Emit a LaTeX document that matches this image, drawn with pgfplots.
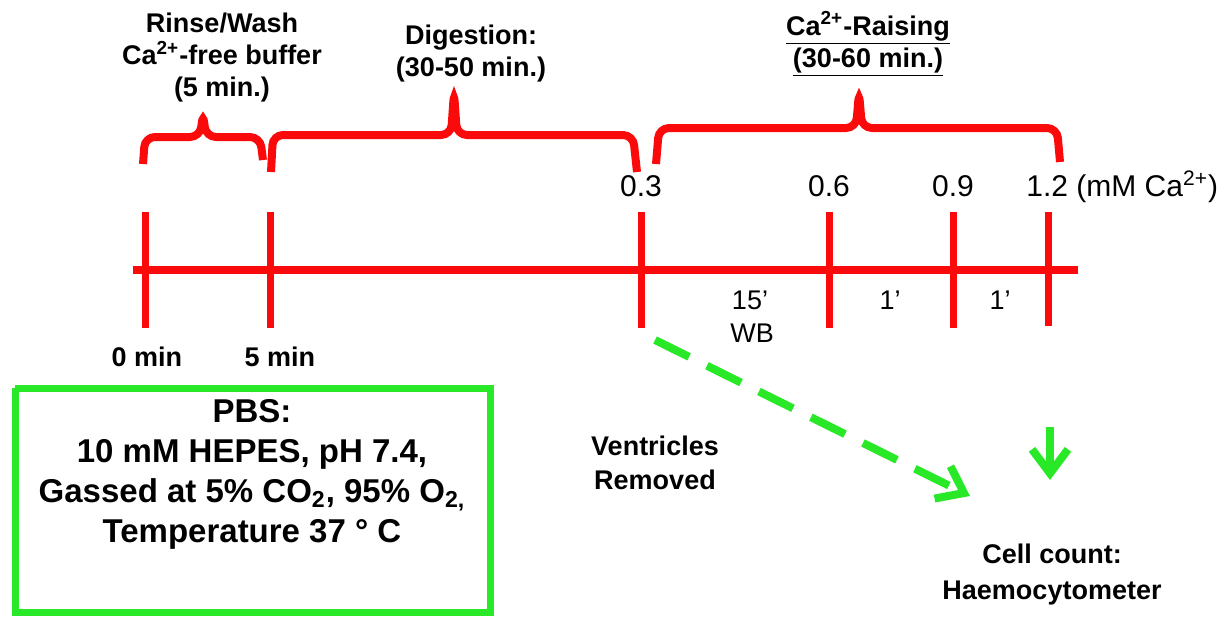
\documentclass[border=0pt]{standalone}
\usepackage{fontspec}
\setmainfont{Liberation Sans}
\usepackage{pgfplots}
\pgfplotsset{compat=1.18}
\usetikzlibrary{arrows.meta}
\definecolor{myred}{RGB}{250,10,10}
\definecolor{mygreen}{RGB}{40,232,40}
\begin{document}
\begin{tikzpicture}
\begin{axis}[
  width=615pt, height=308.5pt, scale only axis,
  xmin=0, xmax=1230, ymin=0, ymax=617, y dir=reverse,
  axis lines=none, clip=false,
]
% invisible frame
\addplot[draw=none] coordinates {(0,0) (1230,617)};
% main line
\addplot[myred, line width=4pt] coordinates {(133,270) (1078,270)};
% ticks
\addplot[myred, line width=3.5pt] coordinates {(145,212) (145,328)};
\addplot[myred, line width=3.5pt] coordinates {(270,212) (270,328)};
\addplot[myred, line width=3.5pt] coordinates {(641,212) (641,328)};
\addplot[myred, line width=3.5pt] coordinates {(829,212) (829,328)};
\addplot[myred, line width=3.5pt] coordinates {(953,212) (953,328)};
\addplot[myred, line width=3.5pt] coordinates {(1048,212) (1048,326)};
% braces
\addplot[myred, line width=4pt, rounded corners=5pt] coordinates {(143,164) (145,137) (200,137) (203,113) (206,137) (260,137) (263,160)};
\addplot[myred, line width=4pt, rounded corners=5pt] coordinates {(271,172) (273,135) (451,135) (454,92) (457,135) (633,135) (637,172)};
\addplot[myred, line width=4pt, rounded corners=5pt] coordinates {(656,164) (659,128) (856,128) (859,92) (862,128) (1057,128) (1060,162)};
% green box
\addplot[mygreen, line width=3.5pt, line join=miter] coordinates {(15,388) (490,388) (490,612) (15,612) (15,388)};
% arrows
\addplot[mygreen, line width=4pt, dash pattern=on 19pt off 10pt, -{Straight Barb[length=12pt,width=18pt]}] coordinates {(655,340) (970,496)};
\addplot[mygreen, line width=4pt, -{Straight Barb[length=12pt,width=18pt]}] coordinates {(1050,427) (1050,480)};
% heading texts
\node[font=\fontsize{13.5}{16}\selectfont\bfseries, align=center] at (axis cs:222,58) {Rinse/Wash\\Ca\textsuperscript{2+}-free buffer\\(5 min.)};
\node[font=\fontsize{13.5}{16}\selectfont\bfseries, align=center] at (axis cs:471,54) {Digestion:\\(30-50 min.)};
\node[font=\fontsize{13.5}{16}\selectfont\bfseries, align=center] at (axis cs:868,44) {\underline{Ca\textsuperscript{2+}-Raising}\\\underline{(30-60 min.)}};
% numbers
\node[font=\fontsize{15}{18}\selectfont, anchor=base] at (axis cs:641,196) {0.3};
\node[font=\fontsize{15}{18}\selectfont, anchor=base] at (axis cs:829,196) {0.6};
\node[font=\fontsize{15}{18}\selectfont, anchor=base] at (axis cs:953,196) {0.9};
\node[font=\fontsize{15}{18}\selectfont, anchor=base west, inner sep=0pt] at (axis cs:1026,196) {1.2 (mM Ca\textsuperscript{2+})};
\node[font=\fontsize{13.5}{16}\selectfont, anchor=base] at (axis cs:750,309) {15'};
\node[font=\fontsize{13.5}{16}\selectfont, anchor=base] at (axis cs:752,342) {WB};
\node[font=\fontsize{13.5}{16}\selectfont, anchor=base] at (axis cs:890,309) {1'};
\node[font=\fontsize{13.5}{16}\selectfont, anchor=base] at (axis cs:1000,309) {1'};
\node[font=\fontsize{13.5}{16}\selectfont\bfseries, anchor=base] at (axis cs:147,366) {0 min};
\node[font=\fontsize{13.5}{16}\selectfont\bfseries, anchor=base] at (axis cs:280,366) {5 min};
% box text
\node[font=\fontsize{16.5}{20}\selectfont\bfseries, align=center, anchor=north] at (axis cs:252,392) {PBS:\\10 mM HEPES, pH 7.4,\\Gassed at 5\% CO\textsubscript{2}, 95\% O\textsubscript{2,}\\Temperature 37 ° C};
% other labels
\node[font=\fontsize{13.5}{17}\selectfont\bfseries, align=center] at (axis cs:655,463) {Ventricles\\Removed};
\node[font=\fontsize{13.5}{18}\selectfont\bfseries, align=center] at (axis cs:1052,575) {Cell count:\\Haemocytometer};
\end{axis}
\end{tikzpicture}
\end{document}
